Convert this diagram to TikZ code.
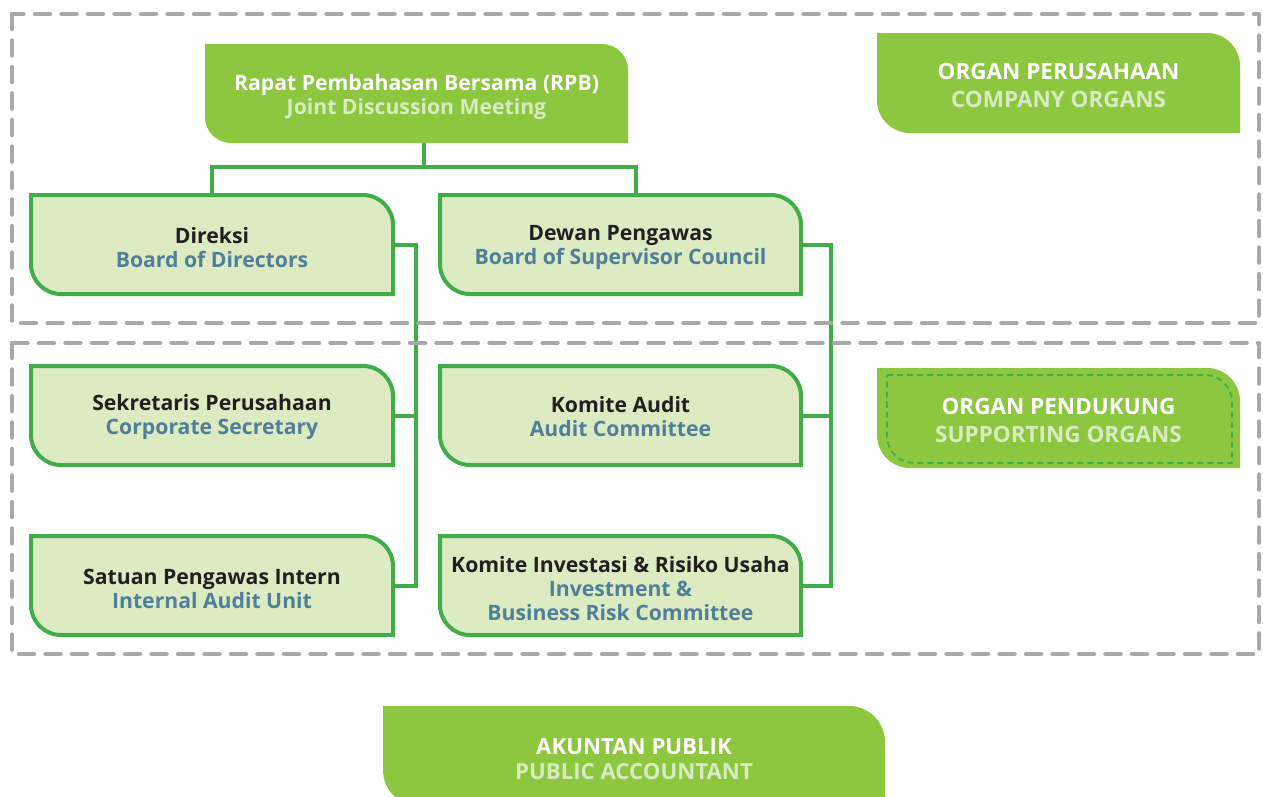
\documentclass[tikz,border=0pt]{standalone}
\usepackage{fontspec}
\setmainfont{Open Sans}
\usetikzlibrary{backgrounds,calc}
\definecolor{dkgreen}{HTML}{8DC63F}
\definecolor{lngreen}{HTML}{40AD49}
\definecolor{ltfill}{HTML}{DDEBC3}
\definecolor{frgray}{HTML}{A7A9AC}
\definecolor{bluetxt}{HTML}{4F7F99}
\definecolor{blktxt}{HTML}{231F20}
\definecolor{palegreen}{HTML}{D9EBC2}
\newcommand\orgshape[3]{%
  \path[#3] let \p1=(#1.north west), \p2=(#1.south east) in
  (\x1,\y1) -- ({\x2-#2pt},\y1)
  .. controls ({\x2-0.448*#2pt},\y1) and (\x2,{\y1-0.448*#2pt}) .. (\x2,{\y1-#2pt})
  -- (\x2,\y2) -- ({\x1+#2pt},\y2)
  .. controls ({\x1+0.448*#2pt},\y2) and (\x1,{\y2+0.448*#2pt}) .. (\x1,{\y2+#2pt})
  -- cycle;}
\newcommand\darktext[2]{\textcolor{white}{#1}\\\textcolor{palegreen}{#2}}
\newcommand\lighttext[2]{\textcolor{blktxt}{#1}\\\textcolor{bluetxt}{#2}}
\tikzset{
  boxnode/.style={inner sep=0pt, outer sep=0pt},
  txt/.style={inner sep=0pt, outer sep=0pt, align=center,
    font=\bfseries\fontsize{21.2}{24}\selectfont},
  capstxt/.style={txt, font=\bfseries\fontsize{22.5}{28}\selectfont},
  pubtxt/.style={txt, font=\bfseries\fontsize{22.2}{25}\selectfont},
  lightbox/.style={boxnode, minimum width=362pt, minimum height=99pt},
  darkfill/.style={fill=dkgreen},
  lightfill/.style={fill=ltfill, draw=lngreen, line width=4pt},
  conn/.style={draw=lngreen, line width=4pt},
  frame/.style={draw=frgray, line width=4.5pt, line cap=round, line join=round,
    dash pattern=on 15pt off 11.5pt},
}
\begin{document}
\begin{tikzpicture}[x=1pt,y=-1pt]
\useasboundingbox (0,0) rectangle (1263,796);
% dashed group frames
\draw[frame] (12,14) rectangle (1259,323);
\draw[frame] (12,343) rectangle (1259,654);
% box nodes
\node[boxnode, minimum width=423pt, minimum height=99pt] (rpb) at (416.5,93.5) {};
\node[boxnode, minimum width=363pt, minimum height=100pt] (co) at (1058.5,83) {};
\node[boxnode, minimum width=363pt, minimum height=100pt] (supp) at (1058.5,418) {};
\node[boxnode, minimum width=345pt, minimum height=88pt] (suppin) at (1059.5,419) {};
\node[boxnode, minimum width=502pt, minimum height=100pt] (pub) at (634,756) {};
\node[lightbox] (dir) at (212,244.5) {};
\node[lightbox, minimum width=361pt] (dew) at (620.5,244.5) {};
\node[lightbox] (sek) at (212,415.5) {};
\node[lightbox, minimum width=361pt] (kau) at (620.5,415.5) {};
\node[lightbox] (spi) at (212,585.5) {};
\node[lightbox, minimum width=361pt] (kir) at (620.5,585.5) {};
% texts
\node[txt] (rpbT) at ([yshift=-3pt]rpb.center) {\darktext{Rapat Pembahasan Bersama (RPB)}{Joint Discussion Meeting}};
\node[capstxt] (coT) at ([yshift=-2pt]co.center) {\darktext{ORGAN PERUSAHAAN}{COMPANY ORGANS}};
\node[capstxt] (suppT) at ([yshift=-2pt]supp.center) {\darktext{ORGAN PENDUKUNG}{SUPPORTING ORGANS}};
\node[pubtxt] (pubT) at ([yshift=-3pt]pub.center) {\darktext{AKUNTAN PUBLIK}{PUBLIC ACCOUNTANT}};
\node[txt] (dirT) at ([yshift=-3pt]dir.center) {\lighttext{Direksi}{Board of Directors}};
\node[txt] (dewT) at ([yshift=-3pt]dew.center) {\lighttext{Dewan Pengawas}{Board of Supervisor Council}};
\node[txt] (sekT) at ([yshift=-1pt]sek.center) {\lighttext{Sekretaris Perusahaan}{Corporate Secretary}};
\node[txt] (kauT) at ([yshift=-1pt]kau.center) {\lighttext{Komite Audit}{Audit Committee}};
\node[txt] (spiT) at ([yshift=-3pt]spi.center) {\lighttext{Satuan Pengawas Intern}{Internal Audit Unit}};
\node[txt] (kirT) at ([yshift=-3pt]kir.center)
  {\textcolor{blktxt}{Komite Investasi \& Risiko Usaha}\\\textcolor{bluetxt}{Investment \&}\\\textcolor{bluetxt}{Business Risk Committee}};
\coordinate (j) at (424,167);
\coordinate (lt) at (416,245);
\coordinate (rt) at (831,245);
\begin{scope}[on background layer]
  % connectors
  \draw[conn] (j |- rpb.south) -- (j);
  \draw[conn] (dir.north) |- (j) -| ($(dew.north west)+(196,0)$);
  \draw[conn] (dir.east) -- (dir.east -| lt) -- (spi.east -| lt) -- (spi.east);
  \draw[conn] (sek.east) -- (sek.east -| lt);
  \draw[conn] (dew.east) -- (dew.east -| rt) -- (kir.east -| rt) -- (kir.east);
  \draw[conn] (kau.east) -- (kau.east -| rt);
  % boxes
  \orgshape{rpb}{26}{darkfill}
  \orgshape{co}{33}{darkfill}
  \orgshape{supp}{33}{darkfill}
  \orgshape{suppin}{27}{draw=lngreen, line width=1.8pt, dash pattern=on 6pt off 4pt}
  \orgshape{pub}{36}{darkfill}
  \orgshape{dir}{30}{lightfill}
  \orgshape{dew}{30}{lightfill}
  \orgshape{sek}{30}{lightfill}
  \orgshape{kau}{30}{lightfill}
  \orgshape{spi}{30}{lightfill}
  \orgshape{kir}{30}{lightfill}
\end{scope}
\end{tikzpicture}
\end{document}
